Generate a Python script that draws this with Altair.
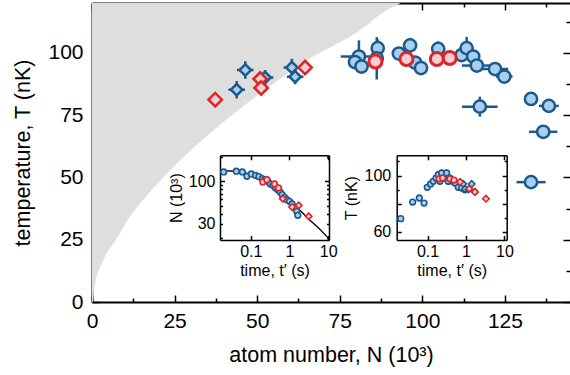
import altair as alt
import pandas as pd

# ---------------- main panel data ----------------
# blue circles: atom number N (10^3), temperature T (nK), errors
bc_N = [80.8, 79.6, 81.6, 86.5, 86.2, 92.9, 96.3, 97.8, 99.6, 104.8, 111.9, 113.4, 115.4, 116.5, 122.0, 124.8, 117.4, 132.9, 138.3, 136.6, 132.9]
bc_T = [98.5, 96.3, 94.5, 101.9, 97.8, 99.7, 103.0, 96.1, 93.9, 101.6, 99.1, 101.9, 98.5, 94.9, 93.5, 90.5, 78.4, 81.5, 78.7, 68.3, 48.1]
bc_Ne = [5.5, 2.0, 2.0, 2.0, 2.0, 2.0, 2.0, 2.0, 2.0, 2.0, 2.0, 2.0, 2.0, 4.5, 4.0, 2.5, 5.4, 1.5, 3.0, 4.3, 4.4]
bc_Te = [6.5, 2.0, 2.0, 3.5, 8.5, 2.0, 3.0, 2.0, 2.0, 3.0, 2.0, 4.5, 2.0, 2.5, 2.0, 2.0, 4.0, 1.5, 1.5, 1.5, 1.5]

# blue diamonds
bd_N = [46.4, 43.8, 52.4, 60.5, 61.5]
bd_T = [93.1, 85.2, 90.1, 94.1, 90.4]
bd_Ne = [2.5, 2.5, 2.5, 2.5, 2.5]
bd_Te = [3.5, 3.5, 3.0, 3.5, 3.0]

# red diamonds / red circles
rd_N = [37.3, 50.9, 51.2, 64.5]
rd_T = [81.2, 89.5, 85.9, 94.1]
rc_N = [85.8, 95.2, 104.4, 108.3]
rc_T = [96.5, 97.5, 97.5, 97.9]

# boundary of the grey region
cur_N = [0.0, 0.3, 0.5, 1.0, 2.0, 3.4, 5.0, 7.5, 11.0, 15.0, 21.6, 28.0, 36.7, 45.0, 55.0, 65.0, 81.0, 90.0, 93.5]
cur_T = [0.0, 0.0, 3.0, 8.0, 12.5, 16.8, 20.8, 25.5, 33.4, 40.2, 50.0, 58.5, 68.8, 77.7, 87.7, 96.9, 109.0, 117.8, 120.0]
top_T = [120.0] * len(cur_N)

# ---------------- inset 1: N vs t ----------------
i1b_t = [0.0199, 0.0423, 0.0604, 0.0794, 0.103, 0.133, 0.162, 0.198, 0.227, 0.276, 0.318, 0.371, 0.436, 0.499, 0.575, 0.648, 0.743, 0.852, 1.0, 1.17, 1.37, 1.54, 1.64]
i1b_N = [130, 133, 130, 115, 123, 118, 114, 108, 104, 100, 92.7, 89.3, 82.8, 78.9, 73.9, 68.6, 63.7, 59.5, 56.9, 52.7, 48.0, 42.9, 38.3]
i1rc_t = [0.205, 0.26, 0.41, 0.52]
i1rc_N = [98, 104.6, 92.7, 82.8]
i1rd_t = [0.67, 1.17, 1.74, 3.14]
i1rd_N = [61.3, 48.4, 50.8, 37.2]
fit_t = [0.016, 0.0423, 0.093, 0.205, 0.454, 1.0, 1.81, 3.28, 5.93, 9.7, 10.4]
fit_N = [134.9, 132.7, 122.8, 107.6, 84.4, 59.6, 44.9, 33.8, 26.2, 20.6, 19.6]

# ---------------- inset 2: T vs t ----------------
i2b_t = [0.020, 0.041, 0.061, 0.081, 0.098, 0.12, 0.141, 0.166, 0.19, 0.21, 0.233, 0.267, 0.314, 0.346, 0.383, 0.45, 0.517, 0.63, 0.77, 0.94]
i2b_T = [69.3, 81.1, 84.0, 80.4, 91.6, 94.0, 95.9, 98.2, 100.6, 95.9, 101.8, 98.2, 101.8, 95.9, 98.2, 95.9, 94.7, 91.6, 91.1, 89.9]
i2b_Te = [0, 0, 0, 0, 0, 0, 0, 2.5, 2.5, 2.5, 2.5, 2.5, 2.5, 2.5, 2.5, 2.5, 2.5, 2.5, 2.5, 2.5]
i2d_t = [0.85, 0.95, 1.17, 1.41, 1.71]
i2d_T = [94.1, 90.4, 90.1, 94.0, 88.3]
i2rc_t = [0.20, 0.247, 0.383, 0.487]
i2rc_T = [97.7, 98.2, 97.7, 96.8]
i2rd_t = [0.70, 1.22, 1.71, 3.32]
i2rd_T = [95.4, 90.6, 88.3, 83.5]

# ---------------- styling ----------------
DB = "#1b5a8c"
LB = "#a8d0ee"
RD = "#d8262b"
PK = "#f6cdd1"
GR = "#dedede"
FONT = "Liberation Sans"
W, H = 478, 299

XS = alt.Scale(domain=[0, 144.7], nice=False, zero=False)
YS = alt.Scale(domain=[0, 120], nice=False, zero=False)

# inset frames (pixel positions inside plot area)
I1L, I1R = 128, 237
I2L, I2R = 304.7, 414.7
IT, IB = 152.3, 237
X1 = alt.Scale(type="log", domain=[0.016, 10.5], range=[I1L, I1R], nice=False)
Y1 = alt.Scale(type="log", domain=[19.1, 208], range=[IB, IT], nice=False)
X2 = alt.Scale(type="log", domain=[0.0157, 11.5], range=[I2L, I2R], nice=False)
Y2 = alt.Scale(domain=[54.1, 114.4], range=[IB, IT], nice=False, zero=False)

dummy = pd.DataFrame({"x": [1.0], "y": [60.0]})


def ax(orient, values, tick=0.0, labels=False, domain=False, offset=0.0, title=None,
       lfs=21, tfs=21.5, lpad=8, tpad=10, fmt=None, dw=2.0, tw=1.5):
    p = dict(orient=orient, values=values, labels=labels, domain=domain, grid=False,
             offset=offset, title=title, labelFlush=False, labelOverlap=False,
             labelFont=FONT, titleFont=FONT, labelFontSize=lfs, titleFontSize=tfs,
             labelPadding=lpad, titlePadding=tpad, labelColor="black", titleColor="black",
             domainColor="black", domainWidth=dw, titleFontWeight="normal")
    if tick > 0:
        p.update(ticks=True, tickSize=tick, tickWidth=tw, tickColor="black")
    else:
        p.update(ticks=False, tickSize=0)
    if fmt:
        p["format"] = fmt
    return alt.Axis(**p)


def axis_layer(xs, ys, xaxis=None, yaxis=None):
    return alt.Chart(dummy).mark_point(opacity=0).encode(
        x=alt.X("x:Q", scale=xs, axis=xaxis),
        y=alt.Y("y:Q", scale=ys, axis=yaxis),
    )


layers = []

# grey region (between the boundary curve and the top of the plot)
gdf = pd.DataFrame({"N": cur_N, "T": cur_T, "Ttop": top_T})
layers.append(
    alt.Chart(gdf).mark_area(color=GR, opacity=1, interpolate="monotone").encode(
        x=alt.X("N:Q", scale=XS, axis=None),
        y=alt.Y("T:Q", scale=YS, axis=None),
        y2="Ttop:Q",
    )
)

# ---- main axes ----
MX = [0, 25, 50, 75, 100, 125]
mX = [12.5, 37.5, 62.5, 87.5, 112.5, 137.5]
MY = [0, 25, 50, 75, 100]
mY = [12.5, 37.5, 62.5, 87.5, 112.5]
layers += [
    axis_layer(XS, YS,
               ax("bottom", MX, labels=True, domain=True, title="atom number, N (10³)", lpad=8, tpad=13),
               ax("left", MY, labels=True, domain=True, title="temperature, T (nK)", lpad=9, tpad=13)),
    axis_layer(XS, YS, ax("top", MX, tick=7, offset=-H), ax("right", MY, tick=7, offset=-W)),
    axis_layer(XS, YS, ax("top", mX, tick=4, offset=-H), ax("right", mY, tick=4, offset=-W)),
    axis_layer(XS, YS, ax("bottom", MX, tick=7, domain=True, offset=-H), ax("left", MY, tick=7, offset=-W)),
    axis_layer(XS, YS, ax("bottom", mX, tick=4, offset=-H), ax("left", mY, tick=4, offset=-W)),
]

# ---- main data ----
bcdf = pd.DataFrame({"N": bc_N, "T": bc_T, "Ne": bc_Ne, "Te": bc_Te})
bddf = pd.DataFrame({"N": bd_N, "T": bd_T, "Ne": bd_Ne, "Te": bd_Te})


def errbars(df, xs, ys, color, width):
    base = alt.Chart(df).transform_calculate(
        xa="datum.N - datum.Ne", xb="datum.N + datum.Ne",
        ya="datum.T - datum.Te", yb="datum.T + datum.Te")
    h = base.mark_rule(color=color, strokeWidth=width).encode(
        x=alt.X("xa:Q", scale=xs, axis=None), x2="xb:Q", y=alt.Y("T:Q", scale=ys, axis=None))
    v = base.mark_rule(color=color, strokeWidth=width).encode(
        x=alt.X("N:Q", scale=xs, axis=None), y=alt.Y("ya:Q", scale=ys, axis=None), y2="yb:Q")
    return [h, v]


def pts(df, xf, yf, xs, ys, shape, size, fill, stroke, sw):
    return alt.Chart(df).mark_point(shape=shape, size=size, filled=True, fill=fill, stroke=stroke,
                                    strokeWidth=sw, opacity=1, fillOpacity=1, strokeOpacity=1).encode(
        x=alt.X(f"{xf}:Q", scale=xs, axis=None), y=alt.Y(f"{yf}:Q", scale=ys, axis=None))


layers += errbars(bcdf, XS, YS, DB, 2.5)
layers += errbars(bddf, XS, YS, DB, 2.5)
layers.append(pts(bcdf, "N", "T", XS, YS, "circle", 150, LB, DB, 2.5))
layers.append(pts(bddf, "N", "T", XS, YS, "diamond", 130, LB, DB, 2.5))
layers.append(pts(pd.DataFrame({"N": rd_N, "T": rd_T}), "N", "T", XS, YS, "diamond", 180, PK, RD, 2.5))
layers.append(pts(pd.DataFrame({"N": rc_N, "T": rc_T}), "N", "T", XS, YS, "circle", 170, PK, RD, 3))

# ---- inset 1 ----
IFS = 16
layers += [
    axis_layer(X1, Y1,
               ax("bottom", [0.1, 1, 10], labels=True, domain=True, offset=-(H - IB), title="time, t′ (s)",
                  lfs=IFS, tfs=IFS, lpad=3, tpad=3, fmt="~g", dw=1.5),
               ax("left", [30, 100], labels=True, domain=True, offset=-I1L, title="N (10³)",
                  lfs=IFS, tfs=IFS, lpad=5, tpad=4, fmt="d", dw=1.5)),
    axis_layer(X1, Y1, ax("top", [0.1, 1, 10], tick=4.5, offset=-IB), ax("right", [100], tick=4.5, offset=I1L - W)),
    axis_layer(X1, Y1, ax("bottom", [0.1, 1, 10], tick=4.5, domain=True, offset=-(H - IT), dw=1.5),
               ax("left", [100], tick=4.5, domain=True, offset=-I1R, dw=1.5)),
    axis_layer(X1, Y1, None, ax("right", [20, 30, 40, 50, 60, 70, 80, 90, 200], tick=2.5, offset=I1L - W)),
    axis_layer(X1, Y1, None, ax("left", [20, 30, 40, 50, 60, 70, 80, 90, 200], tick=2.5, offset=-I1R)),
]
layers.append(
    alt.Chart(pd.DataFrame({"t": fit_t, "N": fit_N})).mark_line(color="black", strokeWidth=1.3).encode(
        x=alt.X("t:Q", scale=X1, axis=None), y=alt.Y("N:Q", scale=Y1, axis=None), order="t:Q")
)
layers.append(pts(pd.DataFrame({"t": i1b_t, "N": i1b_N}), "t", "N", X1, Y1, "circle", 32, LB, DB, 1.6))
layers.append(pts(pd.DataFrame({"t": i1rc_t, "N": i1rc_N}), "t", "N", X1, Y1, "circle", 32, PK, RD, 1.6))
layers.append(pts(pd.DataFrame({"t": i1rd_t, "N": i1rd_N}), "t", "N", X1, Y1, "diamond", 42, PK, RD, 1.6))

# ---- inset 2 ----
layers += [
    axis_layer(X2, Y2,
               ax("bottom", [0.1, 1, 10], labels=True, domain=True, offset=-(H - IB), title="time, t′ (s)",
                  lfs=IFS, tfs=IFS, lpad=3, tpad=3, fmt="~g", dw=1.5),
               ax("left", [60, 100], labels=True, domain=True, offset=-I2L, title="T (nK)",
                  lfs=IFS, tfs=IFS, lpad=6, tpad=5, fmt="d", dw=1.5)),
    axis_layer(X2, Y2, ax("top", [0.1, 1, 10], tick=4.5, offset=-IB), ax("right", [60, 80, 100], tick=4.5, offset=I2L - W)),
    axis_layer(X2, Y2, ax("bottom", [0.1, 1, 10], tick=4.5, domain=True, offset=-(H - IT), dw=1.5),
               ax("left", [60, 80, 100], tick=4.5, domain=True, offset=-I2R, dw=1.5)),
    axis_layer(X2, Y2, None, ax("right", [70, 90, 110], tick=2.5, offset=I2L - W)),
    axis_layer(X2, Y2, None, ax("left", [70, 90, 110], tick=2.5, offset=-I2R)),
]
i2df = pd.DataFrame({"t": i2b_t, "T": i2b_T, "Te": i2b_Te})
layers.append(
    alt.Chart(i2df).transform_calculate(ya="datum.T - datum.Te", yb="datum.T + datum.Te")
    .mark_rule(color=DB, strokeWidth=1.5).encode(
        x=alt.X("t:Q", scale=X2, axis=None), y=alt.Y("ya:Q", scale=Y2, axis=None), y2="yb:Q")
)
layers.append(pts(i2df, "t", "T", X2, Y2, "circle", 32, LB, DB, 1.6))
layers.append(pts(pd.DataFrame({"t": i2d_t, "T": i2d_T}), "t", "T", X2, Y2, "diamond", 42, LB, DB, 1.6))
layers.append(pts(pd.DataFrame({"t": i2rc_t, "T": i2rc_T}), "t", "T", X2, Y2, "circle", 32, PK, RD, 1.6))
layers.append(pts(pd.DataFrame({"t": i2rd_t, "T": i2rd_T}), "t", "T", X2, Y2, "diamond", 42, PK, RD, 1.6))

chart = alt.layer(*layers).resolve_scale(x="independent", y="independent").resolve_axis(
    x="independent", y="independent"
).properties(
    width=W, height=H,
    padding={"left": 92, "top": 3, "right": 0, "bottom": 73},
    autosize=alt.AutoSizeParams(type="none"),
    background="white",
).configure_view(stroke=None)

chart.save("out.html", embed_options={"renderer": "svg", "actions": False})
